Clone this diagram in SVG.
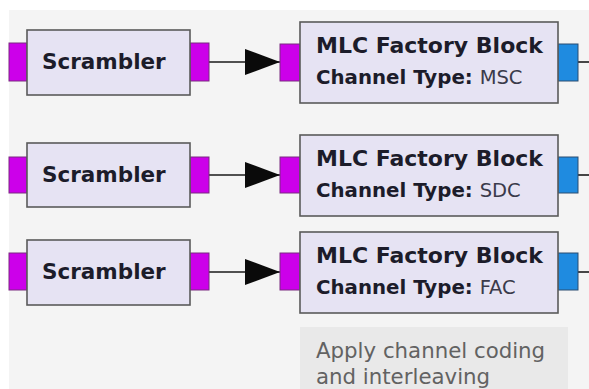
<svg xmlns="http://www.w3.org/2000/svg" width="589" height="389" viewBox="0 0 589 389">
  <style>
    .blk { fill: #e6e3f3; stroke: #5a5a5a; stroke-width: 1.6; }
    .pin { fill: #cc00ea; stroke: #7a2a80; stroke-width: 1; }
    .pout { fill: #1f8be0; stroke: #2a4d70; stroke-width: 1; }
    .wire { stroke: #1a1a1a; stroke-width: 1.6; fill: none; }
    .t { font-family: "DejaVu Sans", Verdana, sans-serif; font-size: 21.5px; fill: #1c1c2a; }
    .title { font-size: 22px; }
    .param { font-size: 19.8px; }
    .val { font-size: 19.5px; fill: #3a3a4a; }
    .b { font-weight: bold; }
    .note { font-family: "DejaVu Sans", Verdana, sans-serif; font-size: 21.3px; fill: #626262; }
  </style>
  <defs>
    <marker id="arrow" markerUnits="userSpaceOnUse" markerWidth="36" markerHeight="26" refX="35" refY="13" orient="auto">
      <path d="M0,0 L35,13 L0,26 Z" fill="#0a0a0a"/>
    </marker>
  </defs>

  <!-- canvas -->
  <rect x="0" y="0" width="589" height="389" fill="#ffffff"/>
  <rect x="9" y="10" width="580" height="379" fill="#f4f4f4"/>

  <!-- connectors -->
  <g id="connectors">
    <line class="wire" x1="209" y1="62" x2="280" y2="62" marker-end="url(#arrow)"/>
    <line class="wire" x1="209" y1="175" x2="280" y2="175" marker-end="url(#arrow)"/>
    <line class="wire" x1="209" y1="272" x2="280" y2="272" marker-end="url(#arrow)"/>
    <line class="wire" x1="578" y1="62" x2="589" y2="62"/>
    <line class="wire" x1="578" y1="175" x2="589" y2="175"/>
    <line class="wire" x1="578" y1="272" x2="589" y2="272"/>
  </g>

  <!-- scramblers -->
  <g id="scrambler1">
    <rect class="pin" x="9" y="43" width="18" height="38"/>
    <rect class="pin" x="190" y="43" width="19" height="38"/>
    <rect class="blk" x="27" y="30" width="163" height="65"/>
    <text class="t b" x="42" y="69">Scrambler</text>
  </g>
  <g id="scrambler2">
    <rect class="pin" x="9" y="157" width="18" height="36"/>
    <rect class="pin" x="190" y="157" width="19" height="36"/>
    <rect class="blk" x="27" y="143" width="163" height="64"/>
    <text class="t b" x="42" y="182">Scrambler</text>
  </g>
  <g id="scrambler3">
    <rect class="pin" x="9" y="253" width="18" height="37"/>
    <rect class="pin" x="190" y="253" width="19" height="37"/>
    <rect class="blk" x="27" y="240" width="163" height="65"/>
    <text class="t b" x="42" y="279">Scrambler</text>
  </g>

  <!-- MLC blocks -->
  <g id="mlc_msc">
    <rect class="pin" x="280" y="44" width="20" height="37"/>
    <rect class="pout" x="558" y="44" width="20" height="37"/>
    <rect class="blk" x="300" y="22" width="258" height="81"/>
    <text class="t b title" x="316" y="53">MLC Factory Block</text>
    <text class="t param" x="316" y="84"><tspan class="b">Channel Type: </tspan><tspan class="val">MSC</tspan></text>
  </g>
  <g id="mlc_sdc">
    <rect class="pin" x="280" y="157" width="20" height="36"/>
    <rect class="pout" x="558" y="157" width="20" height="36"/>
    <rect class="blk" x="300" y="135" width="258" height="81"/>
    <text class="t b title" x="316" y="166">MLC Factory Block</text>
    <text class="t param" x="316" y="197"><tspan class="b">Channel Type: </tspan><tspan class="val">SDC</tspan></text>
  </g>
  <g id="mlc_fac">
    <rect class="pin" x="280" y="253" width="20" height="37"/>
    <rect class="pout" x="558" y="253" width="20" height="37"/>
    <rect class="blk" x="300" y="232" width="258" height="81"/>
    <text class="t b title" x="316" y="263">MLC Factory Block</text>
    <text class="t param" x="316" y="294"><tspan class="b">Channel Type: </tspan><tspan class="val">FAC</tspan></text>
  </g>

  <!-- comment -->
  <g id="comment">
    <rect x="300" y="327" width="268" height="70" fill="#e9e9e9"/>
    <text class="note" x="316" y="358">Apply channel coding</text>
    <text class="note" x="316" y="384">and interleaving</text>
  </g>
</svg>
